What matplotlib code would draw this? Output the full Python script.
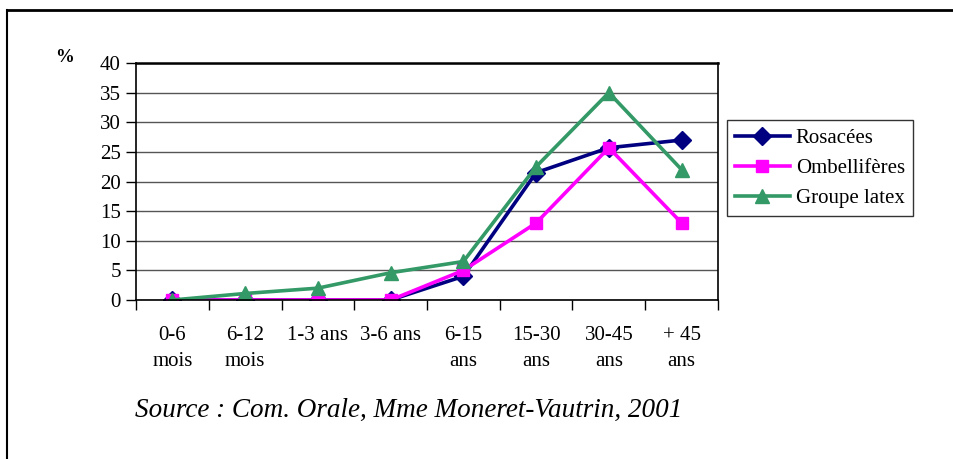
import numpy as np
import matplotlib.pyplot as plt
from matplotlib.lines import Line2D

# Data
categories = ['0-6\nmois', '6-12\nmois', '1-3 ans', '3-6 ans',
              '6-15\nans', '15-30\nans', '30-45\nans', '+ 45\nans']
rosacees = [0, 0, 0, 0, 4, 21.5, 25.7, 27]
ombelliferes = [0, 0, 0, 0, 5, 13, 25.7, 13]
groupe_latex = [0, 1.1, 2, 4.6, 6.5, 22.5, 35, 22]

plt.rcParams['font.family'] = ['Liberation Serif', 'DejaVu Serif']

fig = plt.figure(figsize=(9.54, 4.59), dpi=100)
ax = fig.add_axes([0.1426, 0.3464, 0.61, 0.5163])

x = np.arange(len(categories))
ax.plot(x, rosacees, color='#000080', lw=2.6, marker='D', ms=9.5, label='Rosacées')
ax.plot(x, ombelliferes, color='#FF00FF', lw=2.6, marker='s', ms=8.5, label='Ombellifères')
ax.plot(x, groupe_latex, color='#339966', lw=2.6, marker='^', ms=9.5, label='Groupe latex')

ax.set_xlim(-0.5, len(categories) - 0.5)
ax.set_ylim(0, 40)
ax.set_yticks(range(0, 41, 5))
ax.yaxis.grid(True, color='#555555', lw=1)
ax.set_axisbelow(True)

# category labels centred, tick marks on the boundaries
ax.set_xticks(x)
ax.set_xticklabels(categories, fontsize=15, linespacing=1.45)
ax.tick_params(axis='x', which='major', length=0, pad=19)
ax.set_xticks(np.arange(-0.5, len(categories)), minor=True)
ax.tick_params(axis='x', which='minor', length=7, direction='out', width=1)
ax.tick_params(axis='y', labelsize=15, length=7, width=1, pad=4)

for s in ax.spines.values():
    s.set_color('black')
    s.set_linewidth(1.2)
ax.spines['top'].set_linewidth(1.8)

fig.text(0.058, 0.866, '%', fontsize=13.5, fontweight='bold')

leg = ax.legend(loc='upper left', bbox_to_anchor=(0.7621, 0.7386),
                bbox_transform=fig.transFigure, fontsize=15, frameon=True,
                fancybox=False, edgecolor='black', handlelength=2.6,
                borderpad=0.4, labelspacing=0.5, handletextpad=0.3,
                borderaxespad=0)
leg.get_frame().set_linewidth(1)

fig.text(0.1415, 0.092, 'Source : Com. Orale, Mme Moneret-Vautrin, 2001',
         fontsize=19.5, style='italic')

# outer frame (left and top only)
fig.add_artist(Line2D([0.0073, 0.0073], [0.0, 0.978], transform=fig.transFigure,
                      color='black', lw=1.5))
fig.add_artist(Line2D([0.0073, 1.0], [0.978, 0.978], transform=fig.transFigure,
                      color='black', lw=2))

fig.savefig('out.png', dpi=100)
